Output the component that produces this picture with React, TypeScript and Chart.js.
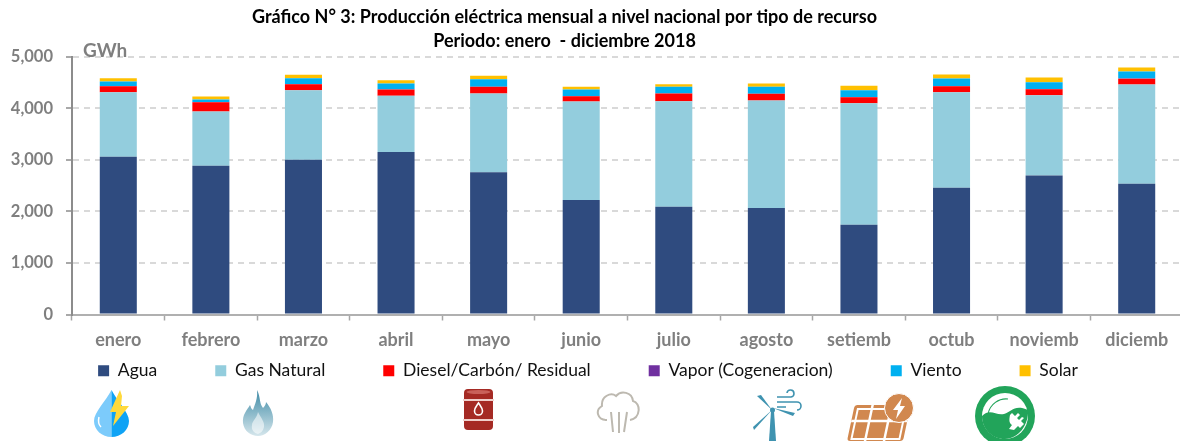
import React, { useEffect, useRef } from "react";
import { Chart, registerables } from "chart.js";

Chart.register(...registerables);

const months = ["enero", "febrero", "marzo", "abril", "mayo", "junio", "julio", "agosto", "setiemb", "octub", "noviemb", "diciemb"];
const agua = [3060, 2885, 3002, 3152, 2762, 2222, 2092, 2066, 1741, 2462, 2696, 2540];
const gasNatural = [1254, 1053, 1351, 1092, 1526, 1911, 2046, 2086, 2358, 1852, 1559, 1924];
const diesel = [117, 181, 117, 122, 131, 103, 150, 131, 117, 117, 117, 111];
const vapor = [3, 3, 3, 3, 3, 3, 3, 3, 3, 3, 3, 3];
const viento = [88, 50, 114, 114, 145, 127, 128, 133, 134, 147, 134, 139];
const solar = [65, 58, 66, 65, 67, 53, 51, 64, 86, 78, 91, 78];
const titleLines = ["Gráfico N° 3: Producción eléctrica mensual a nivel nacional por tipo de recurso", "Periodo: enero  - diciembre 2018"];
const unitLabel = "GWh";

const FONT = "Lato";
const GRAY = "#7F7F7F";

const overlayPlugin = {
  id: "overlay",
  afterLayout(chart: any) {
    if (chart.titleBlock) {
      chart.titleBlock.left -= 22;
      chart.titleBlock.right -= 22;
    }
    if (chart.legend) {
      chart.legend.top = 304;
      chart.legend.left += 1.5;
      chart.legend.right += 1.5;
    }
  },
  afterDraw(chart: any) {
    const { ctx, chartArea } = chart;
    ctx.save();
    ctx.fillStyle = GRAY;
    ctx.font = `bold 19px ${FONT}`;
    ctx.textBaseline = "alphabetic";
    ctx.textAlign = "left";
    ctx.fillText(unitLabel, chartArea.left + 11, chartArea.top);
    ctx.restore();
  },
};

const icon = (left: number, top: number, w: number, h: number): React.CSSProperties => ({
  position: "absolute",
  left,
  top,
  width: w,
  height: h,
  overflow: "visible",
});

function Icons() {
  return (
    <>
      <svg style={icon(94, 390, 35, 47)} viewBox="0 0 35 47">
        <path d="M17.5 0C12 11 0 22 0 31c0 9 8 16 17.5 16z" fill="#7CCBFB" />
        <path d="M17.5 0C23 11 35 22 35 31c0 9-8 16-17.5 16z" fill="#0FA3F5" />
        <path d="M5 27c-1 4 0 8 2 10" stroke="#fff" strokeWidth="1.5" fill="none" />
        <polygon points="26,0 16,22 22,22 19,36 35,16 27,16 28,6" fill="#FFD93B" />
      </svg>
      <svg style={icon(242, 390, 32, 46)} viewBox="0 0 32 46">
        <defs>
          <linearGradient id="fl" x1="0" y1="0" x2="0" y2="1">
            <stop offset="0" stopColor="#3F8BA6" />
            <stop offset="1" stopColor="#D5E6EC" />
          </linearGradient>
        </defs>
        <path d="M15 0c4 8 2 13 6 18 2-2 3-4 3-6 5 6 8 13 7 20-1 8-8 14-15 14S2 41 1 33c-1-8 4-13 7-18 1 2 1 4 3 5C13 14 16 8 15 0z" fill="url(#fl)" />
        <path d="M16 22c3 6 7 10 6 15-1 4-3 6-6 7-4-1-7-4-6-9 0-4 5-7 6-13z" fill="#fff" opacity="0.55" />
      </svg>
      <svg style={icon(463, 388, 31, 43)} viewBox="0 0 31 43">
        <rect x="1" y="1" width="29" height="41" rx="4" fill="#A52A24" />
        <rect x="0" y="11" width="31" height="2" fill="#F0D0CC" />
        <rect x="0" y="31" width="31" height="2" fill="#F0D0CC" />
        <ellipse cx="15.5" cy="4" rx="12" ry="2" fill="#C9615A" />
        <path d="M15.5 15c2 3 4 5 4 8a4 4 0 0 1-8 0c0-3 2-5 4-8z" fill="none" stroke="#fff" strokeWidth="1.6" />
      </svg>
      <svg style={icon(595, 390, 46, 45)} viewBox="0 0 46 45" fill="none" stroke="#BDB9B0" strokeWidth="2">
        <path d="M12 30C2 30 0 20 7 16 6 6 16 2 21 6c5-6 16-4 17 5 8 2 8 17-3 19" />
        <path d="M16 22l2 20M24 22v21M32 22l-3 20" />
      </svg>
      <svg style={icon(753, 390, 49, 51)} viewBox="0 0 49 51" fill="#3F93B0">
        <polygon points="18,21 21,21 23,51 16,51" />
        <path d="M19 20L4 6 8 5z" />
        <path d="M19 20L0 37l1 3z" />
        <path d="M20 18l22 5-2 3z" />
        <circle cx="19.5" cy="20" r="2.5" />
        <path d="M24 7h14a3.5 3.5 0 1 0-4-4M24 12h20a3.5 3.5 0 0 1 0 8M24 17h9" fill="none" stroke="#3F93B0" strokeWidth="1.6" />
      </svg>
      <svg style={icon(840, 394, 76, 47)} viewBox="0 0 76 47">
        <g transform="skewX(-12) translate(12 0)">
          <rect x="5" y="11" width="56" height="36" rx="3" fill="#D1884F" />
          <path d="M23 11v36M42 11v36M5 27h56" stroke="#fff" strokeWidth="2.5" />
          <rect x="9" y="15" width="48" height="30" fill="none" stroke="#fff" strokeWidth="2" />
        </g>
        <circle cx="59" cy="14" r="14.5" fill="#D1884F" stroke="#fff" strokeWidth="1" />
        <polygon points="62,4 53,16 58,16 56,25 65,12 60,12" fill="#fff" />
      </svg>
      <svg style={icon(975, 386, 60, 60)} viewBox="0 0 60 60">
        <circle cx="30" cy="30" r="30" fill="#22A45A" />
        <circle cx="30" cy="30" r="23" fill="#fff" />
        <path d="M7 30c8-8 14 0 22-2 8-2 10-10 24-4 1 15-10 29-23 29C17 53 7 43 7 30z" fill="#22A45A" />
        <path d="M13 28C15 18 24 12 33 13" stroke="#22A45A" strokeWidth="1.2" fill="none" />
        <path d="M39 44l4-4 2 2 4-4-3-3 3-3-2-1-3 3-2-2 3-3-2-2-3 3-3-3-2 2c-1 5-1 8 2 10l-3 4z" fill="#fff" />
      </svg>
    </>
  );
}

export default function App() {
  const ref = useRef<HTMLCanvasElement>(null);

  useEffect(() => {
    document.body.style.margin = "0";
    const mk = (label: string, data: number[], color: string) => ({
      label,
      data,
      backgroundColor: color,
      borderWidth: 0,
      stack: "s",
      barPercentage: 0.4,
      categoryPercentage: 1,
    });
    const chart = new Chart(ref.current as HTMLCanvasElement, {
      type: "bar",
      data: {
        labels: months,
        datasets: [
          mk("Agua", agua, "#2F4B7F"),
          mk("Gas Natural", gasNatural, "#93CDDD"),
          mk("Diesel/Carbón/ Residual", diesel, "#FF0000"),
          mk("Vapor (Cogeneracion)", vapor, "#7030A0"),
          mk("Viento", viento, "#00B0F0"),
          mk("Solar", solar, "#FFC000"),
        ],
      },
      plugins: [overlayPlugin],
      options: {
        animation: false,
        responsive: false,
        layout: { padding: { top: 0, right: 2, left: 0, bottom: 0 } },
        plugins: {
          title: {
            display: true,
            text: titleLines,
            color: "#000",
            font: { family: FONT, size: 18, weight: "bold", lineHeight: 1.33 },
            padding: { top: 5, bottom: 4 },
          },
          legend: {
            position: "bottom",
            labels: {
              boxWidth: 11,
              boxHeight: 11,
              padding: 58,
              color: "#111",
              font: { family: FONT, size: 17.5 },
            },
          },
          tooltip: { enabled: false },
        },
        scales: {
          x: {
            stacked: true,
            offset: true,
            grid: { display: true, drawOnChartArea: false, drawTicks: true, tickLength: 6, tickColor: "#A6A6A6", tickWidth: 1.5, offset: true },
            border: { color: "#B0B0B0", width: 2 },
            ticks: { color: GRAY, font: { family: FONT, size: 18, weight: "bold" }, padding: 9, autoSkip: false, maxRotation: 0 },
            afterFit: (s: any) => { s.height = 41; },
          },
          y: {
            stacked: true,
            min: 0,
            max: 5000,
            grid: { color: "#D9D9D9", lineWidth: 2, tickLength: 6, tickColor: "#8C8C8C", tickWidth: 1.5, tickBorderDash: [] },
            border: { color: "#8C8C8C", width: 2, dash: [6, 5] },
            ticks: {
              stepSize: 1000,
              color: GRAY,
              font: { family: FONT, size: 16.5, weight: "bold" },
              padding: 13,
              callback: (v: any) => Number(v).toLocaleString("en-US"),
            },
            afterFit: (s: any) => { s.width = 82; },
          },
        },
      } as any,
    });
    return () => chart.destroy();
  }, []);

  return (
    <div style={{ position: "absolute", left: 0, top: 0, width: 1180, height: 441, overflow: "hidden", background: "#fff" }}>
      <canvas ref={ref} width={1195} height={441} style={{ position: "absolute", left: -10, top: 0 }} />
      <Icons />
    </div>
  );
}
